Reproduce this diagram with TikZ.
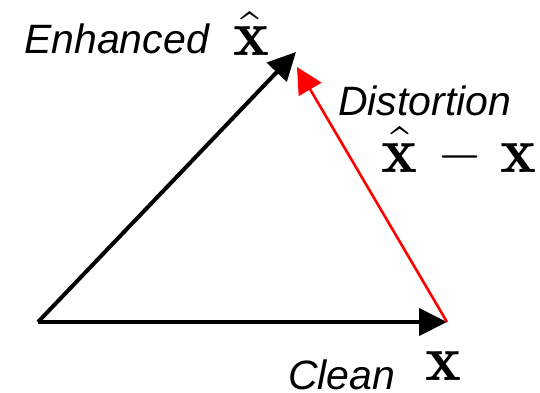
\documentclass[tikz,border=0pt]{standalone}
\usepackage{fontspec}
\setsansfont{Liberation Sans}
\usetikzlibrary{arrows.meta}
\begin{document}
\begin{tikzpicture}[x=1pt,y=-1pt,
  lbl/.style={inner sep=0pt, anchor=base west, font=\fontsize{41}{41}\selectfont\sffamily\itshape},
  symx/.style={inner sep=0pt, anchor=base west, xscale=6.8, yscale=6.5},
  hatsty/.style={inner sep=0pt, anchor=north, xscale=7, yscale=5.5},
  minussty/.style={inner sep=0pt, anchor=base west, scale=5.8},
  vec/.style={line width=4pt, -{Triangle[length=28pt,width=27pt]}},
  dist/.style={line width=2.6pt, red, -{Triangle[length=26pt,width=26pt]}}]
\useasboundingbox (0,0) rectangle (540,392);
\coordinate (O) at (38,322);
\coordinate (X) at (447,322);
\coordinate (XH) at (296,52);
\coordinate (XD) at (297,67);
\draw[vec] (O) -- (X);
\draw[vec] (O) -- (XH);
\draw[dist] (X) -- (XD);
\node[lbl] (enh) at (24,53) {Enhanced};
\node[symx] (xh) at (232,55) {$\mathbf{x}$};
\node[hatsty] (xhhat) at (250,10) {$\hat{\hphantom{x}}$};
\node[lbl] (dis) at (338,115) {Distortion};
\node[symx] (dxh) at (380,172) {$\mathbf{x}$};
\node[hatsty] (dxhat) at (400,125) {$\hat{\hphantom{x}}$};
\node[minussty] (dminus) at (436,171.5) {$-$};
\node[symx] (dx) at (499,172) {$\mathbf{x}$};
\node[lbl] (cln) at (288,389) {Clean};
\node[symx] (x) at (424,380) {$\mathbf{x}$};
\end{tikzpicture}
\end{document}
